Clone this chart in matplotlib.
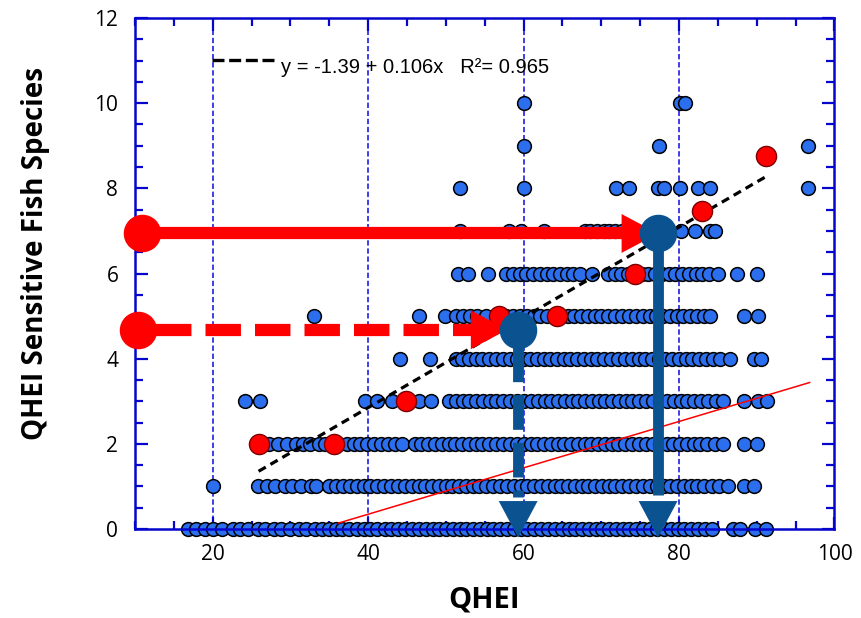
import matplotlib
matplotlib.use('Agg')
from matplotlib import pyplot as plt
import numpy as np

# sites, grouped by number of sensitive species (y level)
row0 = [16.8, 17.8, 19.0, 20.1, 21.2, 22.6, 23.5, 24.6, 25.8, 26.7, 27.9, 28.8, 30.0, 31.1, 32.0,
        33.2, 34.0, 34.9, 35.8, 36.6, 37.5, 38.5, 39.4, 40.3, 41.2, 42.2, 43.0, 43.9, 44.8, 45.6,
        46.5, 47.4, 48.3, 49.1, 50.0, 50.9, 51.8, 52.6, 53.5, 54.4, 55.3, 56.1, 57.0, 57.9, 58.8,
        59.6, 60.5, 61.4, 62.3, 63.1, 64.0, 64.9, 65.8, 66.6, 67.5, 68.4, 69.3, 70.1, 71.0, 71.9,
        72.8, 73.6, 74.5, 75.4, 76.3, 77.1, 78.0, 78.9, 79.8, 80.6, 81.5, 82.4, 83.3, 84.3, 86.9,
        87.8, 89.8, 91.2]
row1 = [20.1, 25.8, 27.0, 28.0, 29.3, 30.2, 31.4, 32.6, 33.3, 35.0, 35.9, 36.8, 37.6, 38.5, 39.5,
        40.3, 41.2, 42.0, 43.0, 43.8, 44.7, 45.6, 46.5, 47.3, 48.2, 49.1, 50.0, 50.8, 51.7, 52.6,
        53.5, 54.3, 55.2, 56.1, 57.0, 57.8, 58.7, 59.6, 60.5, 61.3, 62.2, 63.1, 64.0, 64.8, 65.7,
        66.6, 67.5, 68.3, 69.2, 70.1, 71.0, 71.8, 72.7, 73.6, 74.5, 75.3, 76.2, 77.1, 78.0, 78.8,
        79.7, 80.6, 81.5, 82.3, 83.2, 84.2, 85.1, 86.3, 88.4, 89.7]
row2 = [27.3, 28.4, 29.6, 30.7, 31.6, 32.5, 33.7, 34.4, 35.4, 36.3, 37.3, 38.2, 39.0, 39.9, 40.8,
        41.7, 42.6, 43.5, 44.4, 46.0, 46.8, 47.7, 48.6, 49.5, 50.4, 51.2, 52.1, 53.0, 53.9, 54.7,
        55.6, 56.5, 57.4, 58.2, 59.1, 60.0, 60.9, 61.7, 62.6, 63.5, 64.4, 65.2, 66.1, 67.0, 67.9,
        68.7, 69.6, 70.5, 71.4, 72.2, 73.1, 74.0, 74.9, 75.7, 76.6, 77.5, 78.4, 79.2, 80.1, 81.0,
        81.9, 82.7, 83.6, 84.6, 85.6, 88.4, 90.0]
row3 = [24.2, 26.1, 39.6, 41.1, 43.1, 46.6, 48.1, 50.4, 51.3, 52.2, 53.0, 53.9, 54.8, 55.7, 56.5,
        57.4, 58.3, 59.2, 60.0, 60.9, 61.8, 62.7, 63.5, 64.4, 65.3, 66.2, 67.0, 67.9, 68.8, 69.7,
        70.5, 71.4, 72.3, 73.2, 74.0, 74.9, 75.8, 76.7, 77.5, 78.4, 79.3, 80.2, 81.0, 81.9, 82.8,
        83.7, 84.7, 85.6, 88.4, 90.2, 91.3]
row4 = [44.1, 47.9, 51.3, 52.1, 53.0, 53.9, 54.7, 55.6, 56.5, 57.3, 58.2, 59.1, 60.0, 60.8, 61.7,
        62.6, 63.4, 64.3, 65.2, 66.0, 66.9, 67.8, 68.7, 69.5, 70.4, 71.3, 72.1, 73.0, 73.9, 74.8,
        75.6, 76.5, 77.4, 78.2, 79.1, 80.0, 80.9, 81.7, 82.6, 83.5, 84.4, 85.3, 86.6, 89.7, 90.6]
row5 = [33.0, 46.6, 49.9, 51.3, 52.2, 53.1, 54.0, 55.2, 57.7, 58.6, 59.5, 60.4, 61.3, 62.1, 63.0,
        63.9, 64.8, 65.7, 66.5, 67.4, 68.3, 69.2, 70.0, 70.9, 71.8, 72.7, 73.5, 74.4, 75.3, 76.2,
        77.0, 77.9, 78.8, 79.7, 80.5, 81.4, 82.3, 83.2, 84.0, 88.4, 90.1]
row6 = [51.6, 52.8, 55.4, 57.7, 58.6, 59.5, 60.3, 61.2, 62.1, 63.0, 63.8, 64.7, 65.6, 66.4, 67.3,
        68.8, 70.8, 71.7, 72.5, 73.4, 75.2, 76.0, 76.9, 77.8, 78.7, 79.5, 80.4, 81.3, 82.2, 83.0,
        83.9, 85.0, 87.5, 90.0]
row7 = [51.8, 58.1, 59.7, 62.6, 67.9, 68.6, 69.4, 70.3, 71.0, 71.8, 72.6, 73.4, 80.2, 82.0, 84.0, 84.6]
row8 = [51.8, 60.0, 71.9, 73.5, 77.3, 78.0, 80.1, 82.5, 84.0, 96.6]
row9 = [60.0, 77.4, 96.6]
row10 = [60.0, 80.1, 80.8]
rows = [row0, row1, row2, row3, row4, row5, row6, row7, row8, row9, row10]

# binned means (red)
mean_x = [26.0, 35.6, 44.9, 56.8, 64.3, 74.3, 82.9, 91.2]
mean_y = [2.0, 2.0, 3.0, 5.0, 5.0, 6.0, 7.47, 8.77]

# fit y = a + b x
fit_a, fit_b = -1.39, 0.106
fit_range = [25.9, 91.4]
eq_text = 'y = -1.39 + 0.106x   R\u00b2= 0.965'

# thin red reference line
ref_x = [36.2, 96.8]
ref_y = [0.14, 3.44]

# illustration arrows: (species start, qhei target)
solid_y, solid_x = 6.94, 77.3
dash_y, dash_x = 4.68, 59.3
start_x_solid, start_x_dash = 10.9, 10.4

blue = '#2b6fee'
red = '#ff0000'
navy = '#0b5290'
axblue = '#0505cc'

fig = plt.figure(figsize=(8.62, 6.18), dpi=100)
ax = fig.add_axes([135 / 862, 89 / 618, 699.5 / 862, 511 / 618])
ax.set_xlim(10, 100)
ax.set_ylim(0, 12)

for s in ax.spines.values():
    s.set_color(axblue)
    s.set_linewidth(1.8)
ax.set_xticks([20, 40, 60, 80, 100])
ax.set_xticks(np.arange(10, 101, 5), minor=True)
ax.set_yticks(range(0, 13, 2))
ax.set_yticks(np.arange(0, 12.1, 0.5), minor=True)
ax.tick_params(which='both', direction='in', color=axblue, width=1.6,
               top=True, right=True, labelsize=15)
ax.tick_params(which='major', length=9)
ax.tick_params(which='minor', length=6)
ax.tick_params(axis='y', pad=12)
ax.tick_params(axis='x', pad=11)
for lab in ax.get_xticklabels() + ax.get_yticklabels():
    lab.set_family('Open Sans')

for gx in [20, 40, 60, 80]:
    ax.axvline(gx, color='#0a0ae0', lw=1.1, dashes=(3.5, 1.8), zorder=0.5)

for lvl, xs in enumerate(rows):
    ax.scatter(xs, [lvl] * len(xs), s=98, c=blue, edgecolors='black',
               linewidths=1.1, zorder=2, clip_on=False)

ax.plot(ref_x, ref_y, color=red, lw=1.1, zorder=3)

fx = np.array(fit_range)
ax.plot(fx, fit_a + fit_b * fx, color='black', lw=2.3, dashes=(2.6, 1.7), zorder=3)
ax.plot([19.9, 28.1], [11.01, 11.01], color='black', lw=2.4, dashes=(3.6, 1.4), zorder=3)
ax.text(28.8, 10.83, eq_text, family='Liberation Sans', fontsize=14.5,
        va='center', ha='left', zorder=3)

ax.scatter(mean_x, mean_y, s=210, c=red, edgecolors='#7a0000', linewidths=1.0,
           zorder=4, clip_on=False)


def head(tip, base, color):
    ax.annotate('', xy=tip, xytext=base, annotation_clip=False,
                arrowprops=dict(arrowstyle='-|>,head_length=1.05,head_width=0.56',
                                mutation_scale=25, color=color, lw=0,
                                shrinkA=0, shrinkB=0), zorder=6)


# red horizontal arrows
ax.plot([start_x_solid, 74.0], [solid_y, solid_y], color=red, lw=8.8,
        solid_capstyle='butt', zorder=5, clip_on=False)
head((solid_x, solid_y), (solid_x - 6, solid_y), red)
ax.plot([start_x_dash + 2.3, 54.0], [dash_y, dash_y], color=red, lw=8.8,
        dashes=(2.9, 1.15), zorder=5)
head((57.9, dash_y), (51.8, dash_y), red)
ax.plot([start_x_solid, start_x_dash], [solid_y, dash_y], 'o', ms=26, color=red,
        zorder=7, clip_on=False)

# navy vertical arrows
ax.plot([solid_x, solid_x], [solid_y, 0.8], color=navy, lw=7.8,
        solid_capstyle='butt', zorder=7)
head((solid_x, -0.2), (solid_x, 1.5), navy)
ax.plot([dash_x, dash_x], [dash_y - 0.4, 0.75], color=navy, lw=7.8,
        dashes=(3.2, 1.2), zorder=7)
head((dash_x, -0.2), (dash_x, 1.5), navy)
ax.plot([solid_x, dash_x], [solid_y, dash_y], 'o', ms=26, color=navy, zorder=8)

fig.text(36 / 862, 1 - 254 / 618, 'QHEI Sensitive Fish Species', rotation=90,
         family='Open Sans', weight='bold', fontsize=20, ha='center', va='center')
fig.text(484 / 862, 1 - 600 / 618, 'QHEI', family='Open Sans', weight='bold',
         fontsize=21, ha='center', va='center')

fig.savefig('out.png', dpi=100)
